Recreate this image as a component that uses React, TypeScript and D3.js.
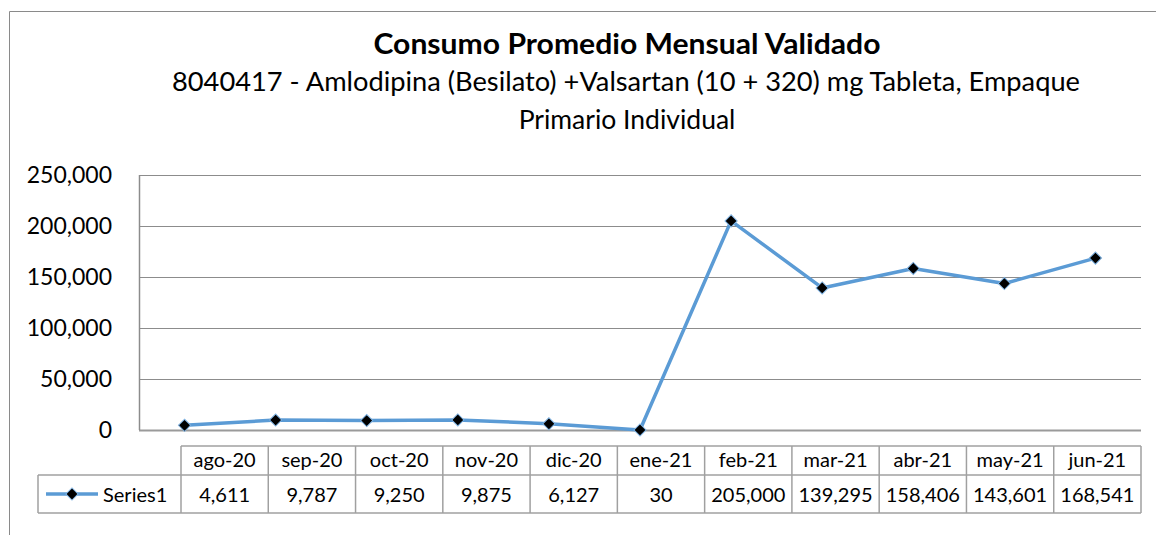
import React from "react";
import * as d3 from "d3";

const categories = ["ago-20", "sep-20", "oct-20", "nov-20", "dic-20", "ene-21", "feb-21", "mar-21", "abr-21", "may-21", "jun-21"];
const values = [4611, 9787, 9250, 9875, 6127, 30, 205000, 139295, 158406, 143601, 168541];
const yTicks = [0, 50000, 100000, 150000, 200000, 250000];
const seriesName = "Series1";
const title = "Consumo Promedio Mensual Validado";
const subtitle = ["8040417 - Amlodipina (Besilato) +Valsartan (10 + 320) mg Tableta, Empaque", "Primario Individual"];

const W = 1156;
const H = 535;
const PLOT = { left: 139, right: 1141, top: 175, bottom: 430 };
const TABLE = { legendLeft: 38, left: 181, right: 1141, top: 446, mid: 475, bottom: 513 };
const FONT = "Lato, 'Open Sans', sans-serif";
const LINE_COLOR = "#5B9BD5";
const GRID = "#8c8c8c";
const TABLE_LINE = "#a0a0a0";

export default function App() {
  const x = d3.scaleBand<string>().domain(categories).range([PLOT.left, PLOT.right]);
  const y = d3.scaleLinear().domain([0, 250000]).range([PLOT.bottom, PLOT.top]);
  const col = d3.scaleBand<string>().domain(categories).range([TABLE.left, TABLE.right]);
  const fmt = d3.format(",");

  const cx = (c: string) => (x(c) ?? 0) + x.bandwidth() / 2;

  const line = d3
    .line<number>()
    .x((_, i) => cx(categories[i]))
    .y((d) => y(d));

  const diamond = d3.symbol().type(d3.symbolSquare).size(74)();

  return (
    <div style={{ position: "absolute", left: 0, top: 0 }}>
      <svg width={W} height={H} style={{ display: "block", background: "#fff" }}>
        {/* outer chart frame, cut at right and bottom */}
        <path d={`M9.5,${H} V11.5 H${W}`} fill="none" stroke="#8a8a8a" strokeWidth={1} />

        {/* titles */}
        <text x={627} y={54} textAnchor="middle" fontFamily={FONT} fontWeight={700} fontSize={28}
          textLength={507} lengthAdjust="spacingAndGlyphs" fill="#000">
          {title}
        </text>
        <text x={626} y={91} textAnchor="middle" fontFamily={FONT} fontSize={26.5}
          textLength={908} lengthAdjust="spacingAndGlyphs" fill="#000">
          {subtitle[0]}
        </text>
        <text x={627} y={129} textAnchor="middle" fontFamily={FONT} fontSize={26.5} fill="#000">
          {subtitle[1]}
        </text>

        {/* gridlines + y labels */}
        {yTicks.map((t) => (
          <g key={t}>
            <line
              x1={PLOT.left}
              x2={PLOT.right}
              y1={Math.round(y(t)) + 0.5}
              y2={Math.round(y(t)) + 0.5}
              stroke={t === 0 ? "#9a9a9a" : GRID}
              strokeWidth={t === 0 ? 2 : 1}
            />
            <text x={112} y={y(t) + 8} textAnchor="end" fontFamily={FONT} fontSize={23} fill="#000">
              {fmt(t)}
            </text>
          </g>
        ))}
        <line x1={PLOT.left + 0.5} x2={PLOT.left + 0.5} y1={PLOT.top} y2={PLOT.bottom} stroke={GRID} strokeWidth={1.5} />

        {/* series */}
        <path d={line(values) ?? ""} fill="none" stroke={LINE_COLOR} strokeWidth={3.5} strokeLinejoin="round" />
        {values.map((v, i) => (
          <path
            key={categories[i]}
            d={diamond ?? ""}
            transform={`translate(${cx(categories[i])},${y(v)}) rotate(45)`}
            fill="#000"
            stroke="#7fb3e3"
            strokeWidth={1}
          />
        ))}

        {/* data table */}
        <g fill="none" stroke={TABLE_LINE} strokeWidth={1.5}>
          <line x1={TABLE.left} x2={TABLE.right} y1={TABLE.top} y2={TABLE.top} />
          <line x1={TABLE.legendLeft} x2={TABLE.right} y1={TABLE.mid} y2={TABLE.mid} />
          <line x1={TABLE.legendLeft} x2={TABLE.right} y1={TABLE.bottom} y2={TABLE.bottom} />
          <line x1={TABLE.legendLeft} x2={TABLE.legendLeft} y1={TABLE.mid} y2={TABLE.bottom} />
          {categories.map((c) => (
            <line key={c} x1={col(c)} x2={col(c)} y1={TABLE.top} y2={TABLE.bottom} />
          ))}
          <line x1={TABLE.right} x2={TABLE.right} y1={TABLE.top} y2={TABLE.bottom} />
        </g>
        {categories.map((c, i) => (
          <g key={c} fontFamily={FONT} fontSize={20} fill="#000" textAnchor="middle">
            <text x={(col(c) ?? 0) + col.bandwidth() / 2} y={TABLE.top + 21}>
              {c}
            </text>
            <text x={(col(c) ?? 0) + col.bandwidth() / 2} y={TABLE.mid + 27}>
              {fmt(values[i])}
            </text>
          </g>
        ))}

        {/* legend key */}
        <line x1={46} x2={98} y1={494} y2={494} stroke={LINE_COLOR} strokeWidth={3.5} />
        <path d={diamond ?? ""} transform="translate(72,494) rotate(45)" fill="#000" stroke="#7fb3e3" strokeWidth={1} />
        <text x={103} y={502} fontFamily={FONT} fontSize={20} fill="#000">
          {seriesName}
        </text>
      </svg>
    </div>
  );
}
